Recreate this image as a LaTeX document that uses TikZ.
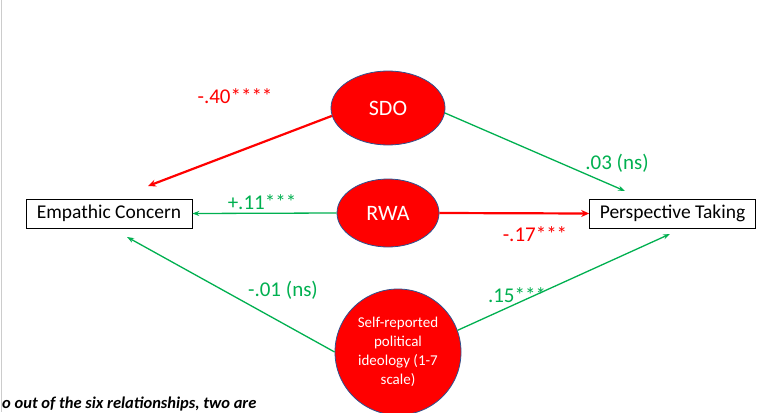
\documentclass[tikz,border=0pt]{standalone}
\usepackage{fontspec}
\setmainfont{Carlito}
\usetikzlibrary{shapes.geometric,arrows.meta}
\definecolor{sred}{HTML}{FF0000}
\definecolor{sgreen}{HTML}{00B050}
\definecolor{sblue}{HTML}{2F528F}
\begin{document}
\begin{tikzpicture}[x=1pt,y=-1pt,
  ell/.style={ellipse,draw=sblue,fill=sred,text=white,inner sep=0,line width=0.8pt},
  box/.style={draw=black,rectangle,minimum width=166,minimum height=29,font=\fontsize{19.5}{22}\selectfont,line width=0.6pt},
  gr/.style={draw=sgreen,line width=1.3pt,-{Stealth[length=7pt,width=5pt]}},
  rd/.style={draw=sred,line width=2.2pt,-{Stealth[length=8pt,width=7pt]}},
  glab/.style={text=sgreen,font=\fontsize{21}{24}\selectfont},
  rlab/.style={text=sred,font=\fontsize{21}{24}\selectfont}]
\useasboundingbox (0,0) rectangle (762,412);
\fill[white] (0,0) rectangle (762,412);
\draw[gray!40,line width=1pt] (1,0) -- (1,412);
\node[ell,minimum width=114,minimum height=74,font=\fontsize{22}{24}\selectfont] (sdo) at (388,108) {SDO};
\node[ell,minimum width=102,minimum height=68,font=\fontsize{22}{24}\selectfont] (rwa) at (388,213) {RWA};
\node[ell,minimum width=126,minimum height=126,font=\fontsize{15}{19}\selectfont,align=center] (spi) at (398,352) {Self-reported\\political\\ideology (1-7\\scale)};
\node[box] (ec) at (109,213.5) {Empathic Concern};
\node[box] (pt) at (672.5,213.5) {Perspective Taking};
\coordinate (ec1) at (148,186);
\coordinate (ec3) at (127,237);
\coordinate (pt1) at (625,191);
\coordinate (pt3) at (670,234);
\draw[rd] (sdo.188) -- (ec1);
\draw[gr] (sdo.-5) -- (pt1);
\draw[gr] (rwa.west) -- (ec.east);
\draw[rd] (rwa.east) -- (pt.west);
\draw[gr] (spi.west) -- (ec3);
\draw[gr] (spi.20) -- (pt3);
\node[rlab] (l1) at (235,96) {-.40****};
\node[glab] (l2) at (617,163) {.03 (ns)};
\node[glab] (l3) at (262,202) {+.11***};
\node[rlab] (l4) at (535,234) {-.17***};
\node[glab] (l5) at (283,290) {-.01 (ns)};
\node[glab] (l6) at (517,295) {.15***};
\node[anchor=west,font=\fontsize{16.5}{18}\selectfont\bfseries\itshape,inner sep=0] (cap) at (2,404) {o out of the six relationships, two are};
\end{tikzpicture}
\end{document}
